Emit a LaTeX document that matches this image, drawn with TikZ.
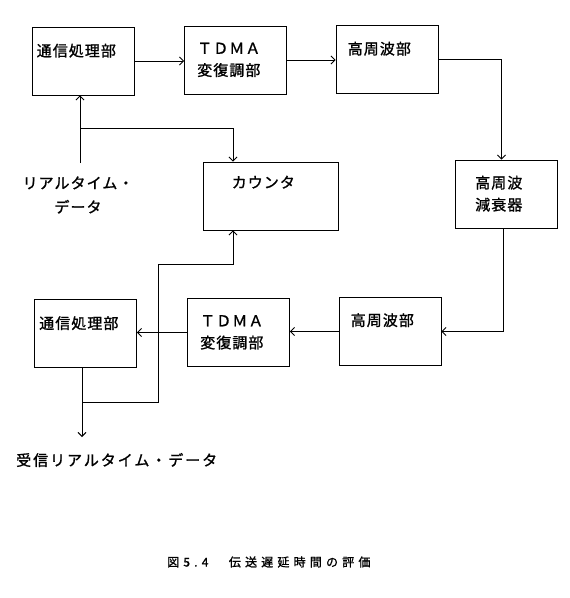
\documentclass[tikz,border=0pt]{standalone}
\usepackage{fontspec}
\setmainfont{Noto Sans CJK JP}[LetterSpace=7, FakeBold=1.2]
\newfontfamily\capfont{Noto Sans CJK JP}[LetterSpace=35, FakeBold=1.2]
\usetikzlibrary{arrows.meta, positioning}

\begin{document}
\begin{tikzpicture}[
  x=1pt, y=-1pt,
  block/.style={rectangle, draw, line width=0.9pt, minimum width=102pt, minimum height=68pt, inner sep=0pt},
  txt/.style={anchor=north west, inner sep=0pt, align=left, font=\fontsize{15}{22}\selectfont},
  arrow/.style={-{Straight Barb[length=4pt, width=8pt, line width=0.9pt]}, line width=0.7pt}
]
  \useasboundingbox (0,0) rectangle (570,598);

  % upper row (send side)
  \node[block] (tx1) at (83,61) {};
  \node[block] (tx2) at (235.5,60) {};
  \node[block] (tx3) at (387,59) {};
  \node[block] (att) at (506.5,194) {};
  \node[block, minimum width=135pt] (cnt) at (270.5,196) {};
  % lower row (receive side)
  \node[block] (rx3) at (390,331.5) {};
  \node[block] (rx2) at (238.5,332.5) {};
  \node[block] (rx1) at (85.5,333.5) {};

  \node[txt, below right=17pt and 5pt of tx1.north west] (t1) {通信処理部};
  \node[txt, below right=17pt and 13pt of tx2.north west] (t2) {ＴＤＭＡ\\変復調部};
  \node[txt, below right=17pt and 12pt of tx3.north west] (t3) {高周波部};
  \node[txt, below right=16pt and 20pt of att.north west] (t4) {高周波\\減衰器};
  \node[txt, below right=14pt and 29pt of cnt.north west] (t5) {カウンタ};
  \node[txt, below right=16pt and 12pt of rx3.north west] (t6) {高周波部};
  \node[txt, below right=17pt and 13pt of rx2.north west] (t7) {ＴＤＭＡ\\変復調部};
  \node[txt, below right=17pt and 5pt of rx1.north west] (t8) {通信処理部};

  \node[txt, anchor=center, align=center, font=\fontsize{15}{24}\selectfont] (txdata) at (78,195) {リアルタイム・\\データ};
  \node[txt, anchor=west] (rxdata) at (16,460) {\addfontfeatures{LetterSpace=13}受信リアルタイム・データ};
  \node[anchor=west, inner sep=0pt, font=\capfont\fontsize{12}{14}\selectfont] (caption) at (167,562) {図5.4　伝送遅延時間の評価};

  \coordinate (txin) at (80,163);
  \coordinate (txsplit) at (80,128);
  \coordinate (rxsplit) at (82,402);
  \coordinate (rxend) at (82,437);

  \draw[arrow] (tx1.east) -- (tx1.east -| tx2.west);
  \draw[arrow] (tx2.east) -- (tx2.east -| tx3.west);
  \draw[arrow] (tx3.east) -| ([xshift=-5pt]att.north);
  \draw[arrow] ([xshift=-3pt]att.south) |- (rx3.east);
  \draw[arrow] (rx3.west) -- (rx3.west -| rx2.east);
  \draw[arrow] (rx2.west) -- (rx2.west -| rx1.east);

  \draw[arrow] (txin) -- (txin |- tx1.south);
  \draw[arrow] (txsplit) -| ([xshift=-37.5pt]cnt.north);
  \draw[arrow] (rxend |- rx1.south) -- (rxend);
  \draw[arrow] (rxsplit) -| (158,264) -| ([xshift=-37.5pt]cnt.south);
\end{tikzpicture}
\end{document}
